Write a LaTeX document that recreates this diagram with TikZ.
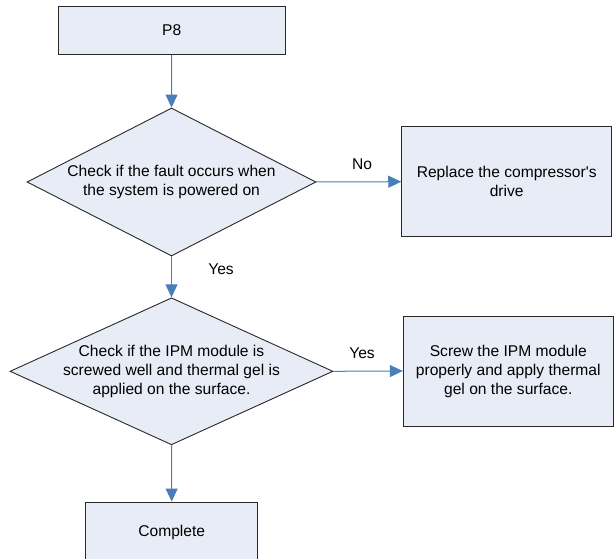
\documentclass[tikz,border=0pt]{standalone}
\usepackage{fontspec}
\setmainfont{Liberation Sans}
\usetikzlibrary{shapes.geometric,arrows.meta}
\definecolor{boxfill}{RGB}{232,236,247}
\definecolor{boxline}{RGB}{40,40,40}
\definecolor{arrowblue}{RGB}{74,126,187}
\tikzset{
  x=1pt,y=-1pt,
  every node/.style={font=\fontsize{15.6}{19}\selectfont},
  procbox/.style={draw=boxline,fill=boxfill,line width=0.9pt,rectangle,inner sep=0pt,align=center},
  decbox/.style={draw=boxline,fill=boxfill,line width=0.9pt,diamond,inner sep=0pt},
  txt/.style={align=center,inner sep=0pt},
  flow/.style={draw=arrowblue,line width=1pt,-{Triangle[length=13pt,width=12pt]}},
  lbl/.style={inner sep=0pt}
}
\begin{document}
\begin{tikzpicture}
\useasboundingbox (0,0) rectangle (614,559);
\node[procbox,minimum width=227pt,minimum height=48pt] (p8) at (171.7,30.5) {P8};
\node[decbox,minimum width=289pt,minimum height=148pt] (d1) at (171.5,182) {};
\node[txt] (d1t) at (d1.center) {Check if the fault occurs when\\the system is powered on};
\node[procbox,minimum width=210pt,minimum height=110pt] (rep) at (506.7,181.7) {Replace the compressor\textquotesingle s\\drive};
\node[decbox,minimum width=323pt,minimum height=147pt] (d2) at (171.5,371.3) {};
\node[txt] (d2t) at (d2.center) {Check if the IPM module is\\screwed well and thermal gel is\\applied on the surface.};
\node[procbox,minimum width=210pt,minimum height=110pt] (scr) at (508.3,371) {Screw the IPM module\\properly and apply thermal\\gel on the surface.};
\node[procbox,minimum width=172pt,minimum height=60pt] (comp) at (171.7,532) {Complete};
\draw[flow] (p8.south) -- (d1.north);
\draw[flow] (d1.south) -- (d2.north);
\draw[flow] (d1.east) -- (rep.west);
\draw[flow] (d2.east) -- (scr.west);
\draw[flow] (d2.south) -- (comp.north);
\node[lbl] (no) at (362,164) {No};
\node[lbl] (yes1) at (221,269) {Yes};
\node[lbl] (yes2) at (362,353) {Yes};
\end{tikzpicture}
\end{document}
